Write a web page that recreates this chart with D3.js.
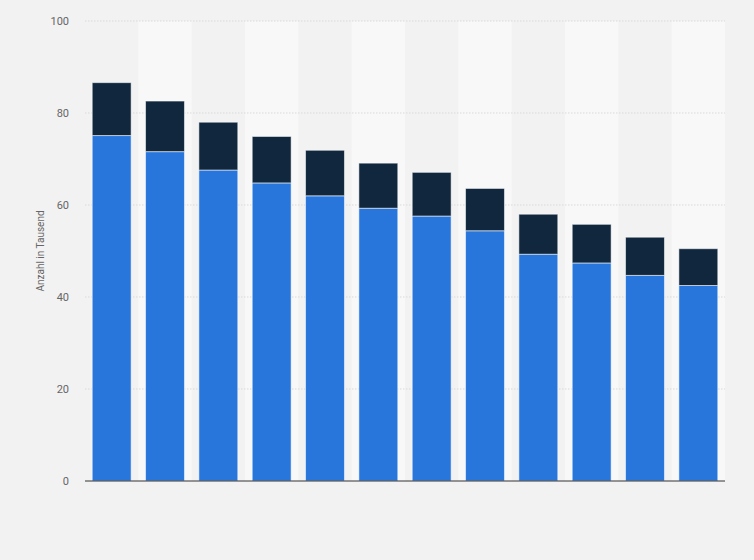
<!DOCTYPE html>
<html lang="de">
<head>
    <meta charset="UTF-8">
    <title>Anzahl in Tausend</title>
    <script src="https://d3js.org/d3.v7.min.js"></script>
    <style>
        body {
            margin: 0;
            padding: 0;
            background: #f2f2f2;
            font-family: Roboto, Arial, sans-serif;
        }
        .grid line {
            stroke: #d9d9d9;
            stroke-dasharray: 1.5 1.5;
        }
    </style>
</head>
<body>
    <div id="chart"></div>

    <script>
        // categories (no labels shown in the original)
        const categories = ["1", "2", "3", "4", "5", "6", "7", "8", "9", "10", "11", "12"];
        const seriesLower = [75.1, 71.6, 67.6, 64.8, 62.0, 59.3, 57.6, 54.4, 49.3, 47.4, 44.7, 42.5];
        const seriesUpper = [11.5, 11.0, 10.4, 10.1, 9.9, 9.8, 9.5, 9.2, 8.7, 8.4, 8.3, 8.0];
        const yTicks = [0, 20, 40, 60, 80, 100];

        const width = 754, height = 560;
        const margin = { top: 21, right: 29, bottom: 79, left: 85 };
        const innerW = width - margin.left - margin.right;
        const innerH = height - margin.top - margin.bottom;

        const svg = d3.select("#chart").append("svg")
            .attr("width", width)
            .attr("height", height);

        const g = svg.append("g")
            .attr("transform", `translate(${margin.left},${margin.top})`);

        const x = d3.scaleBand()
            .domain(categories)
            .range([0, innerW])
            .paddingInner(0.27)
            .paddingOuter(0.135);

        const y = d3.scaleLinear()
            .domain([0, 100])
            .range([innerH, 0]);

        // alternating column bands
        const step = innerW / categories.length;
        g.append("g")
            .selectAll("rect")
            .data(categories.filter((d, i) => i % 2 === 1))
            .enter().append("rect")
            .attr("x", d => categories.indexOf(d) * step)
            .attr("y", 0)
            .attr("width", step)
            .attr("height", innerH)
            .attr("fill", "#f8f8f8");

        // gridlines
        g.append("g")
            .attr("class", "grid")
            .selectAll("line")
            .data(yTicks.slice(1))
            .enter().append("line")
            .attr("x1", 0)
            .attr("x2", innerW)
            .attr("y1", d => y(d))
            .attr("y2", d => y(d));

        const stacked = d3.stack()
            .keys(["lower", "upper"])(categories.map((c, i) => ({
                cat: c, lower: seriesLower[i], upper: seriesUpper[i]
            })));

        const colors = ["#2876dc", "#10273e"];

        g.append("g")
            .selectAll("g")
            .data(stacked)
            .enter().append("g")
            .attr("fill", (d, i) => colors[i])
            .selectAll("rect")
            .data(d => d)
            .enter().append("rect")
            .attr("x", d => x(d.data.cat))
            .attr("y", d => y(d[1]))
            .attr("width", x.bandwidth())
            .attr("height", d => y(d[0]) - y(d[1]))
            .attr("stroke", "rgba(255,255,255,0.55)")
            .attr("stroke-width", 1);

        // y axis
        const yAxis = g.append("g")
            .attr("color", "#666")
            .call(d3.axisLeft(y).tickValues(yTicks).tickSize(0).tickPadding(16));
        yAxis.select(".domain").remove();
        yAxis.selectAll("text")
            .attr("fill", "#666")
            .attr("font-size", 11)
            .attr("font-family", "Roboto, Arial, sans-serif");

        // x baseline
        g.append("line")
            .attr("x1", 0)
            .attr("x2", innerW)
            .attr("y1", innerH)
            .attr("y2", innerH)
            .attr("stroke", "#333")
            .attr("stroke-width", 1);

        svg.append("text")
            .attr("transform", `translate(44,${margin.top + innerH / 2}) rotate(-90)`)
            .attr("text-anchor", "middle")
            .attr("fill", "#666")
            .attr("font-size", 10)
            .text("Anzahl in Tausend");
    </script>
</body>
</html>
